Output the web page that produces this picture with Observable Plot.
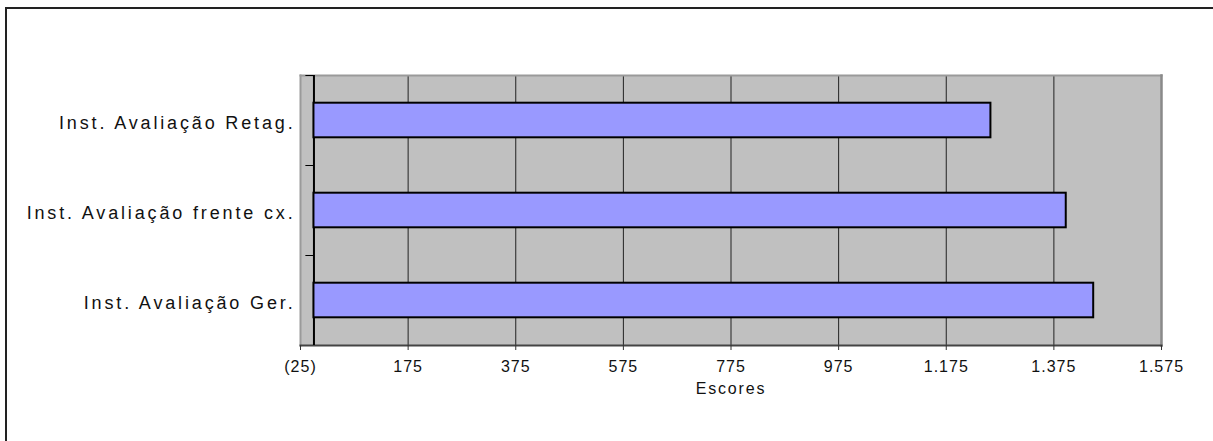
<!DOCTYPE html>
<html><head><meta charset="utf-8">
<script src="https://cdn.jsdelivr.net/npm/d3@7"></script>
<script src="https://cdn.jsdelivr.net/npm/@observablehq/plot@0.6"></script>
<style>
body{margin:0;background:#fff;overflow:hidden;}
#wrap{position:relative;width:1213px;height:441px;overflow:hidden;}
#border{position:absolute;left:5px;top:7px;width:1400px;height:600px;border-left:2px solid #222;border-top:2px solid #222;pointer-events:none;}
</style></head><body><div id="wrap"><div id="border"></div></div>
<script>
const categories = ["Inst. Avaliação Retag.", "Inst. Avaliação frente cx.", "Inst. Avaliação Ger."];
const values = [1258, 1398, 1449];
const tickValues = [-25, 175, 375, 575, 775, 975, 1175, 1375, 1575];
const tickLabels = ["(25)", "175", "375", "575", "775", "975", "1.175", "1.375", "1.575"];
const xLabel = "Escores";

const data = categories.map((c, i) => ({category: c, value: values[i]}));
const gridTicks = tickValues.filter(t => t > -25 && t < 1575);

const chart = Plot.plot({
  width: 1213, height: 441,
  marginLeft: 300, marginRight: 52, marginTop: 75, marginBottom: 96,
  style: {fontFamily: "'Liberation Sans', Arial, sans-serif", color: "#111", background: "transparent"},
  x: {domain: [-25, 1575]},
  y: {domain: categories, padding: 0},
  marks: [
    Plot.frame({fill: "#c0c0c0", stroke: null}),
    Plot.ruleX(gridTicks, {stroke: "#222", strokeWidth: 1}),
    Plot.frame({anchor: "top", stroke: "#9a9a9a", strokeWidth: 2}),
    Plot.frame({anchor: "right", stroke: "#8a8a8a", strokeWidth: 2.5}),
    Plot.frame({anchor: "left", stroke: "#9a9a9a", strokeWidth: 2}),
    Plot.frame({anchor: "bottom", stroke: "#444", strokeWidth: 2}),
    Plot.ruleX([0], {stroke: "#000", strokeWidth: 2}),
    Plot.ruleY(categories, {y: d => d, x1: -15, x2: 0, dy: -45, stroke: "#000", strokeWidth: 1}),
    Plot.barX(data, {y: "category", x: "value", fill: "#9999ff", stroke: "#000", strokeWidth: 2, insetTop: 27.7, insetBottom: 27.7}),
    Plot.axisX(tickValues, {tickFormat: d => tickLabels[tickValues.indexOf(d)], tickSize: 5, tickPadding: 10, fontSize: 16, label: null, stroke: "#333"}),
    Plot.axisY({tickSize: 0, tickPadding: 5, fontSize: 18, label: null, dy: 2.5}),
    Plot.text([xLabel], {frameAnchor: "bottom", dy: 48, fontSize: 16, fill: "#111"})
  ]
});
const svg = d3.select(chart);
svg.selectAll('g[aria-label="x-axis tick label"]').style("letter-spacing", "1px");
svg.selectAll('g[aria-label="y-axis tick label"]').style("letter-spacing", "2.85px");
svg.selectAll('g[aria-label="text"]').style("letter-spacing", "1.8px");
d3.select(chart).style("position", "absolute").style("left", "0").style("top", "0");
document.getElementById("wrap").appendChild(chart);
</script>
</body></html>
